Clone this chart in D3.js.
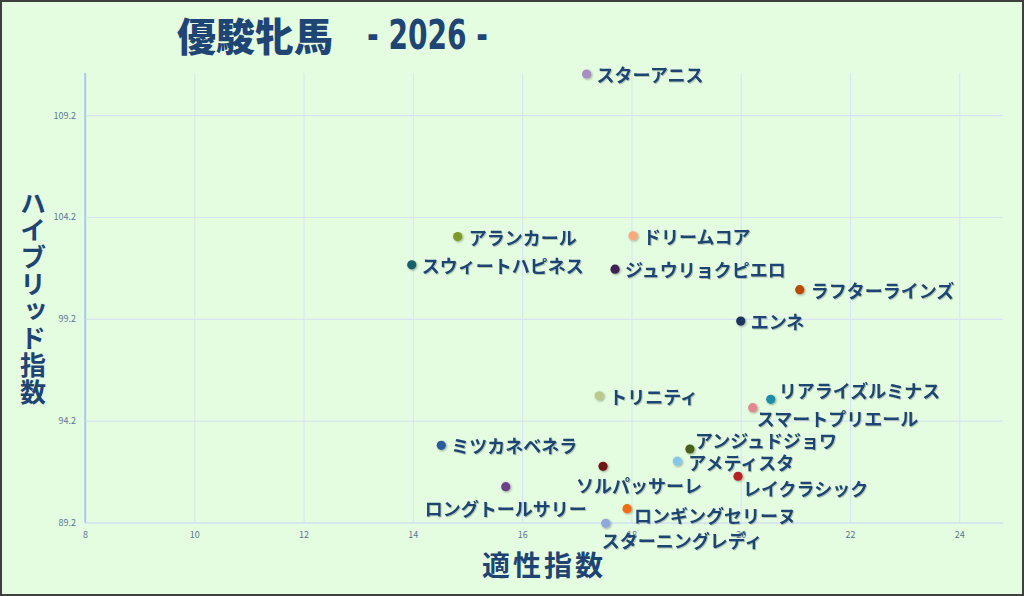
<!DOCTYPE html>
<html><head><meta charset="utf-8">
<script src="https://cdn.jsdelivr.net/npm/d3@7"></script>
<style>
html,body{margin:0;padding:0;background:#e4fde0;}
svg{display:block;}
</style></head>
<body><svg id="c" width="1024" height="596"></svg>
<script>
// ---- data ----
const horses = ["スターアニス","アランカール","ドリームコア","スウィートハピネス","ジュウリョクピエロ","ラフターラインズ","エンネ","リアライズルミナス","スマートプリエール","トリニティ","アンジュドジョワ","アメティスタ","ソルパッサーレ","レイクラシック","ミツカネベネラ","ロングトールサリー","ロンギングセリーヌ","スターニングレディ"];
const aptitude = [17.18,14.82,18.03,13.98,17.70,21.08,20.00,20.55,20.22,17.41,19.07,18.84,17.48,19.95,14.52,15.70,17.92,17.53];
const hybrid  = [111.22,103.24,103.28,101.85,101.64,100.63,99.09,95.25,94.84,95.42,92.81,92.21,91.96,91.47,92.99,90.96,89.88,89.16];
const xTicks = [8,10,12,14,16,18,20,22,24];
const yTicks = [89.2,94.2,99.2,104.2,109.2];
const titleMain = "優駿牝馬";
const titleSub = "- 2026 -";
const xTitle = "適性指数";
const yTitle = "ハイブリッド指数";

// ---- styles / layout ----
const colors = ["#a88cc2","#7d9b2c","#f7aa7e","#15606b","#3d2452","#b84b06","#1b355f","#1b8ea6","#e3878f","#b9ca8a","#4c5f1a","#86c6e6","#6e1519","#b42328","#2b5b99","#6b4189","#f26c12","#8fa8d9"];
// label placement relative to the point: [dx, dy, anchor]
const labelPlace = [[10,0,"start"],[11,0,"start"],[10,0,"start"],[10,0,"start"],[10,0,"start"],[11,0,"start"],[10,0,"start"],[8,-9,"start"],[4,10,"start"],[10,0,"start"],[5,-9,"start"],[11,1,"start"],[-27,19,"start"],[5,12,"start"],[10,0,"start"],[0,21,"middle"],[7,6,"start"],[-4,17,"start"]];

const W = 1024, H = 596;
const plot = {left:85, right:1003, top:73, bottom:522.5};
const svg = d3.select("#c");
const defs = svg.append("defs");
const f1 = defs.append("filter").attr("id","ds").attr("x","-50%").attr("y","-50%").attr("width","200%").attr("height","200%");
f1.append("feDropShadow").attr("dx",1).attr("dy",1).attr("stdDeviation",0.8).attr("flood-color","#000").attr("flood-opacity",0.35);
const f2 = defs.append("filter").attr("id","ts").attr("x","-10%").attr("y","-30%").attr("width","120%").attr("height","160%");
f2.append("feDropShadow").attr("dx",1).attr("dy",1).attr("stdDeviation",0.6).attr("flood-color","#000").attr("flood-opacity",0.22);

svg.append("rect").attr("x",1).attr("y",1).attr("width",W-2).attr("height",H-2)
  .attr("fill","#e4fde0").attr("stroke","#3f3f3f").attr("stroke-width",2);

const x = d3.scaleLinear().domain([8, 24.8]).range([plot.left, plot.right]);
const y = d3.scaleLinear().domain([89.2, 111.27]).range([plot.bottom, plot.top]);

const font = "'Noto Sans CJK JP','Noto Sans',sans-serif";

// grid
const gx = svg.append("g").attr("transform",`translate(0,${plot.bottom})`)
  .call(d3.axisBottom(x).tickValues(xTicks).tickSize(-(plot.bottom-plot.top)).tickSizeOuter(0).tickFormat(d3.format("d")).tickPadding(9));
gx.select(".domain").attr("stroke","#cfe1f2").attr("stroke-width",1.2);
gx.selectAll(".tick line").attr("stroke","#d6e4f4").attr("stroke-width",1);
gx.selectAll(".tick text").attr("fill","#5b7895").attr("font-size",9).attr("font-family",font);

const gy = svg.append("g").attr("transform",`translate(${plot.left},0)`)
  .call(d3.axisLeft(y).tickValues(yTicks).tickSize(-(plot.right-plot.left)).tickSizeOuter(0).tickFormat(d3.format(".1f")).tickPadding(9));
gy.select(".domain").attr("stroke","#a9c3f2").attr("stroke-width",1.3);
gy.selectAll(".tick line").attr("stroke","#d6e4f4").attr("stroke-width",1.2);
gy.selectAll(".tick text").attr("fill","#5b7895").attr("font-size",9).attr("font-family",font);
gy.selectAll(".tick").filter(d=>d===yTicks[0]).select("line").attr("stroke","#cfe1f2");
svg.append("line").attr("x1",plot.left).attr("x2",plot.left).attr("y1",plot.top).attr("y2",plot.bottom)
  .attr("stroke","#a9c3f2").attr("stroke-width",1.3);

// points
const data = horses.map((h,i)=>({name:h, x:aptitude[i], y:hybrid[i], c:colors[i], p:labelPlace[i]}));
svg.append("g").selectAll("circle").data(data).join("circle")
  .attr("cx",d=>x(d.x)).attr("cy",d=>y(d.y)).attr("r",4.6)
  .attr("fill",d=>d.c).attr("filter","url(#ds)");

svg.append("g").selectAll("text").data(data).join("text")
  .attr("x",d=>x(d.x)+d.p[0]).attr("y",d=>y(d.y)+d.p[1])
  .attr("text-anchor",d=>d.p[2]).attr("dominant-baseline","central")
  .attr("font-family",font).attr("font-weight",700).attr("font-size",18)
  .attr("fill","#1f4473").attr("filter","url(#ts)")
  .text(d=>d.name);

// title
svg.append("text").attr("x",177).attr("y",51).attr("fill","#1f4575")
  .attr("font-family",font).attr("font-weight",900).attr("font-size",39).text(titleMain);
svg.append("text").attr("x",367).attr("y",49).attr("fill","#1f4575")
  .attr("font-family","'Liberation Sans Narrow','DejaVu Sans Condensed',sans-serif")
  .attr("font-weight",700).attr("font-size",40)
  .attr("textLength",121).attr("lengthAdjust","spacingAndGlyphs").text(titleSub);

// axis titles
svg.append("text").attr("x",544).attr("y",564).attr("text-anchor","middle").attr("dominant-baseline","central")
  .attr("font-family",font).attr("font-weight",700).attr("font-size",28).attr("letter-spacing",3)
  .attr("fill","#1f4473").text(xTitle);

svg.append("text").attr("x",33).attr("y",190)
  .style("writing-mode","vertical-rl").style("text-orientation","upright")
  .attr("font-family",font).attr("font-weight",700).attr("font-size",26).attr("letter-spacing",1)
  .attr("fill","#1f4473").text(yTitle);
</script></body></html>
